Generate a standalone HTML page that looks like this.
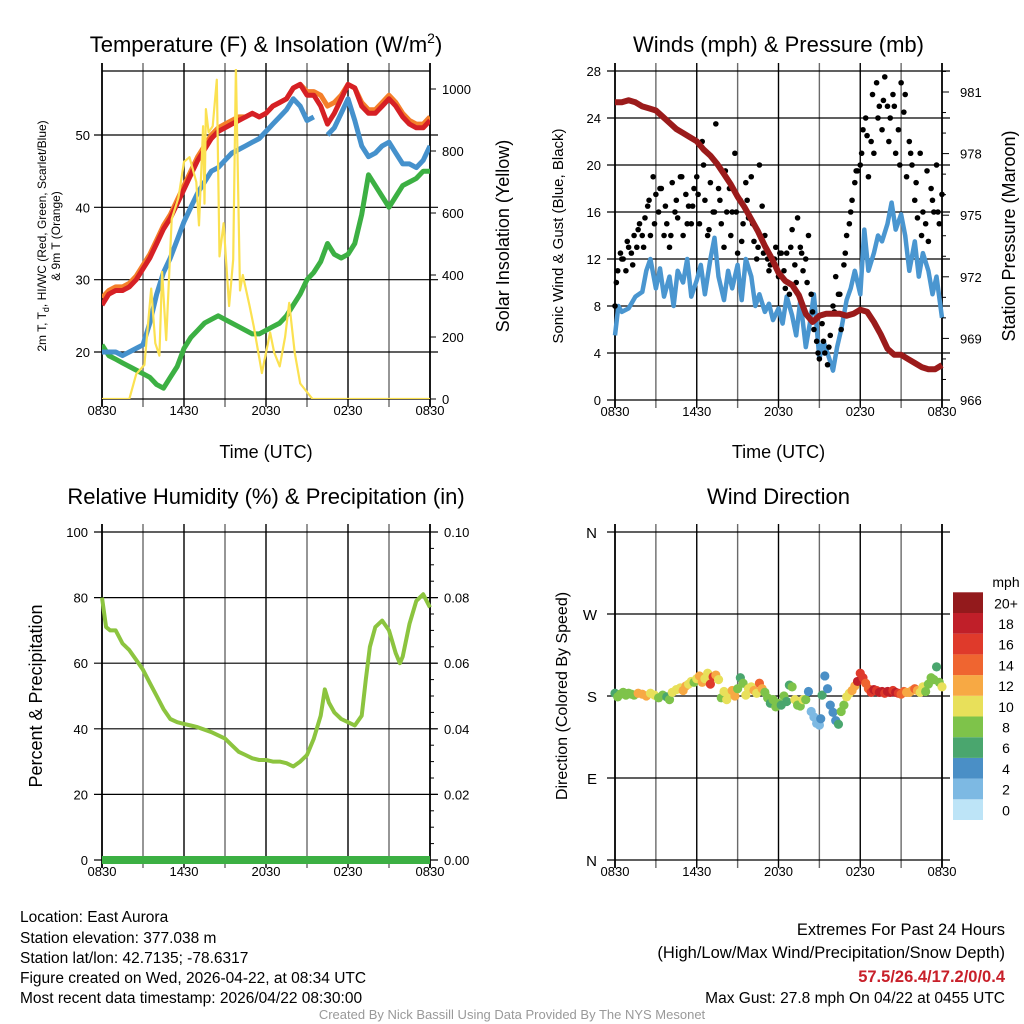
<!DOCTYPE html>
<html><head><meta charset="utf-8">
<style>
html,body{margin:0;padding:0;background:#fff;}
svg{display:block;font-family:"Liberation Sans",sans-serif;}
.nar{font-family:"Liberation Sans Narrow","Liberation Sans",sans-serif;}
</style></head>
<body>
<svg id="chart" xmlns="http://www.w3.org/2000/svg" width="1024" height="1024" viewBox="0 0 1024 1024">
<rect width="1024" height="1024" fill="#fff"/>
<g id="grids"></g>
<g id="series"></g>
<g id="axes"></g>
<g id="texts" class="nar" font-size="15.5" fill="#000">
<text x="20" y="922">Location: East Aurora</text>
<text x="20" y="943">Station elevation: 377.038 m</text>
<text x="20" y="963">Station lat/lon: 42.7135; -78.6317</text>
<text x="20" y="983">Figure created on Wed, 2026-04-22, at 08:34 UTC</text>
<text x="20" y="1003">Most recent data timestamp: 2026/04/22 08:30:00</text>
<text x="1005" y="935" text-anchor="end" font-size="16.5">Extremes For Past 24 Hours</text>
<text x="1005" y="958" text-anchor="end" font-size="16.5">(High/Low/Max Wind/Precipitation/Snow Depth)</text>
<text x="1005" y="982" text-anchor="end" font-size="16.5" font-weight="bold" fill="#c8202a">57.5/26.4/17.2/0/0.4</text>
<text x="1005" y="1003" text-anchor="end" font-size="15.5">Max Gust: 27.8 mph On 04/22 at 0455 UTC</text>
<text x="512" y="1019" text-anchor="middle" font-size="13" fill="#999">Created By Nick Bassill Using Data Provided By The NYS Mesonet</text>
</g>
</svg>
<script>
// ---------- DATA ----------
const xTickLabels = ["0830","1430","2030","0230","0830"];
// Panel 1 temperature (F), hours since 0830
const tempHours = [0,0.5,1,1.5,2,2.5,3,3.5,4,4.5,5,5.5,6,6.5,7,7.5,8,8.5,9,9.5,10,10.5,11,11.5,12,12.5,13,13.5,14,14.5,15,15.5,16,16.5,17,17.5,18,18.5,19,19.5,20,20.5,21,21.5,22,22.5,23,23.5,24];
const tempRed =   [26.5,28,28.5,28.5,29,30,31.5,33,35,37,38.5,40.5,42.5,44.5,46.5,48,49.5,50.5,51,51.5,52,52.5,53,52.5,53,54,54.5,55,56.5,57,55.5,55.5,54,51.5,53,55,57,56.5,54,53,53,54,55,54,52.5,51.5,51,51,52];
const tempOrange =[27.5,28.5,29,29,29.5,30.5,32,33.5,35.5,37.5,39,41,43,45,47,48.5,50,51,51.5,52,52.5,52.5,53,52.5,53,54,54.5,55,56.5,57,56,56,55.5,54,54.5,55.5,57,56.5,54.5,53.5,53.5,54.5,55.5,54.5,53,52,51.5,51.5,52.5];
const tempBlue =  [20,20,20,19.5,20,20.5,21,24,28,31,33,35.5,38,40,42,43.5,45,45.5,46.5,47.5,48,48.5,49,49.5,50.5,51.5,52.5,53.5,55,54,52,52.5,null,50,51,53,55,52,48.5,47,47.5,48.5,49,47.5,46,46,45.5,46.5,48.5];
const dewGreen =  [21,19.5,19,18.5,18,17.5,17,16.5,15.5,15,16.5,18,20.5,22,23,24,24.5,25,24.5,24,23.5,23,22.5,22.5,23,23.5,24,25,26.5,28,30,31,32.5,35,33.5,33,33.5,35,39,44.5,43,41.5,40,41.5,43,43.5,44,45,45];
const solarHours = [0,2.0,2.5,3.1,3.6,3.9,4.2,4.4,4.7,5.1,5.6,6.0,6.4,6.9,7.1,7.4,7.5,7.6,7.8,8.1,8.4,8.6,8.9,9.3,9.6,9.8,10.1,10.3,10.8,11.1,11.7,12.3,12.6,13.0,13.4,13.7,14.1,14.5,15.4,24];
const solarVals  = [0,0,80,110,356,180,140,410,190,580,650,765,780,700,560,880,630,935,860,880,1030,460,567,300,450,1070,350,400,300,235,84,215,150,105,200,310,150,50,0,0];
// Panel 2 winds/pressure
const windHours = [0,0.25,0.5,1,1.5,2,2.3,2.6,3,3.3,3.6,4,4.3,4.6,5,5.3,5.6,6,6.3,6.6,7,7.3,7.6,8,8.3,8.6,9,9.3,9.6,10,10.3,10.6,11,11.3,11.6,12,12.3,12.6,13,13.3,13.6,14,14.3,14.6,15,15.3,15.6,16,16.3,16.6,17,17.3,17.6,18,18.3,18.6,19,19.3,19.6,20,20.3,20.6,21,21.3,21.6,22,22.3,22.6,23,23.3,23.6,24];
const windSonic = [5.5,8,7.5,7.8,8.8,9.2,11,12,9.5,11.2,8.8,10.5,8,11,10,12,8.8,10.2,11.5,9,12,13.8,10.5,8.5,11,9.5,11.5,8.5,12,10.5,8,9,7.5,8.2,6.8,7.8,6.5,8.8,7.2,5.5,8.5,4.5,6.5,9,3.5,5,4,2.5,4.5,6,8.5,9.5,11,9,14.5,11,12.5,14,13.5,15,16.8,14.5,15.8,14,11,13.5,10.5,12.5,11,9,10.5,7];
const gustHours = [0,0.2,0.4,0.6,0.8,1,1.2,1.4,1.6,1.8, 2,2.2,2.4,2.6,2.8,3,3.2,3.4,3.6,3.8, 4,4.2,4.4,4.6,4.8,5,5.2,5.4,5.6,5.8, 6,6.2,6.4,6.6,6.8,7,7.2,7.4,7.6,7.8, 8,8.2,8.4,8.6,8.8,9,9.2,9.4,9.6,9.8, 10,10.2,10.4,10.6,10.8,11,11.2,11.4,11.6,11.8, 12,12.2,12.4,12.6,12.8,13,13.2,13.4,13.6,13.8, 14,14.2,14.4,14.6,14.8,15,15.2,15.4,15.6,15.8, 16,16.2,16.4,16.6,16.8,17,17.2,17.4,17.6,17.8, 18,18.2,18.4,18.6,18.8,19,19.2,19.4,19.6,19.8, 20,20.2,20.4,20.6,20.8,21,21.2,21.4,21.6,21.8, 22,22.2,22.4,22.6,22.8,23,23.2,23.4,23.6,23.8, 24];
const gustVals = [8,11,12.5,12,11,13,12.5,14,13,15, 14,15.5,16.5,14,19,17.5,16,18,14,15, 13,18.5,16,15.5,19,14,17.5,16.5,15,18, 19,15,22,17,14,18.5,16,23.5,18,15, 13,16,18,16,21,12.5,17,15,18.5,15.5, 19,13.5,12,20,16.5,14,12,11.5,12,13, 10.5,12.5,11,12.5,9,14.5,11.5,15.5,13,11, 12,14,9,6,5,3.5,6.5,4,3,5.5, 8,10.5,9,6,11.5,14,15,17,18.5,19.5, 20,23,24,19,22,21,27,25,23,27.5, 25,24,26,21,23,27,24.5,19,22,20, 17,15.5,21,16,15,13.5,18,16,20,15, 17.5];
const gust2Hours = [0.1,0.5,0.9,1.3,1.7,2.1,2.5,2.9,3.3,3.7,4.1,4.5,4.9,5.3,5.7,6.1,6.5,6.9,7.3,7.7,8.1,8.5,8.9,9.3,9.7,10.1,10.5,10.9,11.3,11.7,12.1,12.5,12.9,13.3,13.7,14.1,14.5,14.9,15.3,15.7,16.1,16.5,16.9,17.3,17.7,18.1,18.5,18.9,19.3,19.7,20.1,20.5,20.9,21.3,21.7,22.1,22.5,22.9,23.3,23.7];
const gust2Vals = [10,12,13.5,11.5,14.5,13,17,15,18,16.5,14,17,19,15,16.5,17.5,20,14.5,16,17,19.5,14,16,13.5,17,15,13,12.5,11,12,12.5,9.5,13,10,12.5,10,7.5,4,5,4.5,7.5,9,12.5,16,19.5,21,22.5,26,24,25.5,22,25,20,26,21,18.5,14,19.5,17,16];
const pressHours = [0,0.5,1,1.5,2,2.5,3,3.5,4,4.5,5,5.5,6,6.5,7,7.5,8,8.5,9,9.5,10,10.5,11,11.5,12,12.5,13,13.5,14,14.5,15,15.5,16,16.5,17,17.5,18,18.5,19,19.5,20,20.5,21,21.5,22,22.5,23,23.5,24];
const pressVals = [980.5,980.5,980.6,980.5,980.3,980.2,980.1,979.8,979.5,979.2,979.0,978.8,978.6,978.2,977.9,977.5,977.0,976.5,975.9,975.4,974.8,974.2,973.5,972.9,972.2,971.8,971.6,971.1,970.2,969.8,970.1,970.2,970.2,970.2,970.1,970.2,970.4,970.3,969.8,969.2,968.5,968.2,968.2,968.0,967.8,967.6,967.5,967.5,967.7];
// Panel 3 RH
const rhHours = [0,0.3,0.6,1,1.5,2,2.5,3,3.5,4,4.5,5,5.5,6,6.5,7,8,9,9.5,10,10.5,11,11.5,12,12.5,13,13.5,14,14.5,15,15.5,16,16.3,16.6,17,17.5,18,18.5,19,19.3,19.6,20,20.5,21,21.5,21.8,22,22.5,23,23.5,24];
const rhVals  = [80,71,70,70,66,64,61,58,54,50,46,43,42,41.5,41,40.5,39,37,35,33,32,31,30.5,30.5,30,30,29.5,28.5,30,32,37,44,52,48,45,43,42,41,44,55,65,71,73,70,63,60,62,72,79,81,77];
const precipVals = [0,0];
// Panel 4 wind direction (deg) & speed (mph)
const dirHours = [0,0.2,0.4,0.6,0.8,1,1.2,1.4,1.7,2,2.3,2.6,2.9,3.2,3.5,3.8,4,4.2,4.5,4.8,5,5.2,5.4,5.6,5.8,6,6.2,6.4,6.6,6.8,7,7.2,7.4,7.6,7.8,8,8.2,8.4,8.6,8.8,9,9.2,9.4,9.6,9.8,10,10.2,10.4,10.6,10.8,11,11.2,11.4,11.6,11.8,12,12.2,12.4,12.6,12.8,13,13.2,13.4,13.6,13.8,14,14.2,14.4,14.6,14.8,15,15.1,15.2,15.4,15.6,15.8,16,16.2,16.4,16.6,16.8,17,17.2,17.4,17.6,17.8,18,18.2,18.4,18.6,18.8,19,19.2,19.4,19.6,19.8,20,20.2,20.4,20.6,20.8,21,21.2,21.4,21.6,21.8,22,22.2,22.4,22.6,22.8,23,23.2,23.4,23.6,23.8,24];
const dirVals = [183,179,182,184,181,183,182,181,183,182,180,183,181,178,181,179,176,184,187,189,186,191,193,196,195,199,202,195,199,205,193,201,203,198,178,185,176,183,186,180,188,200,194,181,188,190,186,183,194,188,184,178,172,176,168,172,170,180,174,192,190,176,170,169,176,176,185,163,157,150,148,155,181,202,188,170,162,153,149,163,170,179,183,186,191,196,205,200,194,188,184,187,186,184,185,183,185,184,186,184,183,182,185,184,184,186,188,186,184,190,185,193,200,198,212,195,190];
const speedVals = [5,7,7,7,8,7,7,8,11,11,12,9,10,8,8,6,7,10,10,9,11,11,10,9,8,10,12,11,10,9,16,15,11,10,8,10,10,9,12,11,7,6,7,10,10,9,11,10,13,12,7,7,6,7,8,8,6,8,6,6,8,9,7,8,10,7,3,2,2,2,2,4,5,4,4,4,3,4,6,8,8,10,10,11,12,17,15,16,14,13,16,17,16,17,17,16,17,18,16,17,16,14,13,12,11,12,13,11,10,9,8,7,8,7,6,8,10];

// ---------- HELPERS ----------
const NS = "http://www.w3.org/2000/svg";
const gG = document.getElementById("grids"), gS = document.getElementById("series"), gA = document.getElementById("axes");
function mk(tag, attrs, parent){ const e=document.createElementNS(NS,tag); for(const k in attrs) e.setAttribute(k,attrs[k]); parent.appendChild(e); return e; }
function txt(parent, x, y, s, size, anchor, rot){ const t=mk("text",{x:x,y:y,"font-size":size,"text-anchor":anchor||"middle",fill:"#000"},parent); if(rot) t.setAttribute("transform",`rotate(${rot} ${x} ${y})`); t.textContent=s; return t; }
function scale(d0,d1,r0,r1){ return v => r0 + (v-d0)/(d1-d0)*(r1-r0); }
function pathFrom(xs, ys, sx, sy){ let d="", pen=false; for(let i=0;i<xs.length;i++){ if(ys[i]===null||ys[i]===undefined){pen=false;continue;} d+=(pen?"L":"M")+sx(xs[i]).toFixed(1)+" "+sy(ys[i]).toFixed(1)+" "; pen=true;} return d; }
function panelFrame(x0,x1,y0,y1,hLines,name){
  const sx = scale(0,24,x0,x1);
  for(let h=0;h<=24;h+=3){ const l=mk("line",{x1:sx(h),x2:sx(h),y1:y0-8,y2:y1+8,stroke:(h%6===0?"#000":"#6a6a6a"),"stroke-width":(h===0||h===24)?1.8:1.4},gG);
    
     }
  hLines.forEach(y=>{ const l=mk("line",{x1:x0-8,x2:x1+8,y1:y,y2:y,stroke:"#000","stroke-width":1.2},gG);
    
     });
  xTickLabels.forEach((s,i)=>{ const t=txt(gA, sx(i*6), y1+16, s, 13);
    
     });
  return sx;
}

// ---------- PANEL 1 ----------
(function(){
  const x0=102,x1=430,y0=71,y1=399;
  const sy = scale(20,50,352,135);
  const sr = scale(0,1000,399,89);
  const hl=[20,30,40,50].map(sy);
  const sx = panelFrame(x0,x1,y0,y1,hl,"temp-panel");
  mk("line",{x1:x0,x2:x1,y1:y0,y2:y0,stroke:"#000","stroke-width":1.2},gG);
  mk("line",{x1:x0,x2:x1,y1:y1,y2:y1,stroke:"#000","stroke-width":1.2},gG);
  [20,30,40,50].forEach(v=>{ const t=txt(gA,x0-12,sy(v)+5,String(v),13,"end");   });
  [0,200,400,600,800,1000].forEach(v=>{ mk("line",{x1:x1,x2:x1+6,y1:sr(v),y2:sr(v),stroke:"#000"},gA); const t=txt(gA,x1+12,sr(v)+5,String(v),13,"start");   });
  const clip = mk("clipPath",{id:"c1"},gS); mk("rect",{x:x0,y:y0-2,width:x1-x0,height:y1-y0+2},clip);
  const g = mk("g",{"clip-path":"url(#c1)"},gS);
  let p;
  p=mk("path",{d:pathFrom(tempHours,dewGreen,sx,sy),fill:"none",stroke:"#3cb043","stroke-width":5,"stroke-linejoin":"round"},g);  
  p=mk("path",{d:pathFrom(tempHours,tempOrange,sx,sy),fill:"none",stroke:"#f47f2a","stroke-width":5,"stroke-linejoin":"round"},g);  
  p=mk("path",{d:pathFrom(tempHours,tempRed,sx,sy),fill:"none",stroke:"#d62025","stroke-width":5,"stroke-linejoin":"round"},g);  
  p=mk("path",{d:pathFrom(tempHours,tempBlue,sx,sy),fill:"none",stroke:"#4591cc","stroke-width":5,"stroke-linejoin":"round"},g);  
  p=mk("path",{d:pathFrom(solarHours,solarVals,sx,sr),fill:"none",stroke:"#fbe151","stroke-width":2.2,"stroke-linejoin":"round"},g);  
  let t=txt(gA,(x0+x1)/2,52,"",22); t.innerHTML='Temperature (F) &amp; Insolation (W/m<tspan font-size="14" dy="-9">2</tspan><tspan dy="9">)</tspan>';  
  t=txt(gA,(x0+x1)/2,458,"Time (UTC)",18);  
  t=txt(gA,46,236,"",12,"middle",-90); t.innerHTML='2m T, T<tspan font-size="9" dy="3">d</tspan><tspan dy="-3">, HI/WC (Red, Green, Scarlet/Blue)</tspan>';  
  t=txt(gA,60,236,"& 9m T (Orange)",12,"middle",-90);  
  t=txt(gA,509,236,"Solar Insolation (Yellow)",18,"middle",-90);  
})();

// ---------- PANEL 2 ----------
(function(){
  const x0=615,x1=942,y0=71,y1=400;
  const sy = scale(0,28,400,71);
  const sp = scale(966,981,400,92);
  const hl=[0,4,8,12,16,20,24,28].map(sy);
  const sx = panelFrame(x0,x1,y0,y1,hl,"wind-panel");
  [0,4,8,12,16,20,24,28].forEach(v=>{ const t=txt(gA,x0-14,sy(v)+5,String(v),13,"end");   });
  for(let v=966;v<=982;v++){ mk("line",{x1:x1,x2:x1+(v%3===0?7:4),y1:sp(v),y2:sp(v),stroke:"#000"},gA); }
  [966,969,972,975,978,981].forEach(v=>{ const t=txt(gA,x1+18,sp(v)+5,String(v),13,"start");   });
  let p=mk("path",{d:pathFrom(windHours,windSonic,sx,sy),fill:"none",stroke:"#4a96d0","stroke-width":4.5,"stroke-linejoin":"round"},gS);  
  gustHours.forEach((h,i)=>{ if(!isFinite(gustVals[i])) return; const c=mk("circle",{cx:sx(h),cy:sy(Math.min(gustVals[i],27.8)),r:2.8,fill:"#000"},gS);
    
     });
  gust2Hours.forEach((h,i)=>{ if(!isFinite(gust2Vals[i])) return; const c=mk("circle",{cx:sx(h),cy:sy(Math.min(gust2Vals[i],27.8)),r:2.8,fill:"#000"},gS);
    
     });
  p=mk("path",{d:pathFrom(pressHours,pressVals,sx,sp),fill:"none",stroke:"#9b1b1b","stroke-width":6,"stroke-linejoin":"round"},gS);  
  let t=txt(gA,(x0+x1)/2,52,"Winds (mph) & Pressure (mb)",22);  
  t=txt(gA,(x0+x1)/2,458,"Time (UTC)",18);  
  t=txt(gA,563,236,"Sonic Wind & Gust (Blue, Black)",15,"middle",-90);  
  t=txt(gA,1015,236,"Station Pressure (Maroon)",18,"middle",-90);  
})();

// ---------- PANEL 3 ----------
(function(){
  const x0=102,x1=430,y0=532,y1=860;
  const sy = scale(0,100,860,532);
  const spr = scale(0,0.1,860,532);
  const hl=[0,20,40,60,80,100].map(sy);
  const sx = panelFrame(x0,x1,y0,y1,hl,"rh-panel");
  [0,20,40,60,80,100].forEach(v=>{ const t=txt(gA,x0-14,sy(v)+5,String(v),13,"end");   });
  for(let k=0;k<=20;k++){ const v=k*0.005; mk("line",{x1:x1,x2:x1+(k%4===0?7:4),y1:spr(v),y2:spr(v),stroke:"#000"},gA); }
  ["0.00","0.02","0.04","0.06","0.08","0.10"].forEach((s,i)=>{ const t=txt(gA,x1+14,spr(i*0.02)+5,s,13,"start");   });
  let p=mk("path",{d:pathFrom(rhHours,rhVals,sx,sy),fill:"none",stroke:"#8cc43f","stroke-width":4,"stroke-linejoin":"round"},gS);  
  p=mk("path",{d:pathFrom([0,24],precipVals,sx,spr),fill:"none",stroke:"#3cb043","stroke-width":8},gS);  
  let t=txt(gA,(x0+x1)/2,504,"Relative Humidity (%) & Precipitation (in)",22);  
  t=txt(gA,42,696,"Percent & Precipitation",18,"middle",-90);  
})();

// ---------- PANEL 4 ----------
(function(){
  const x0=615,x1=942,y0=532,y1=860;
  const sy = scale(0,360,860,532);
  const hl=[0,90,180,270,360].map(sy);
  const sx = panelFrame(x0,x1,y0,y1,hl,"dir-panel");
  ["N","E","S","W","N"].forEach((s,i)=>{ const t=txt(gA,x0-18,sy(i*90)+6,s,15,"end");   });
  const colors=["#bde4f7","#7db9e3","#4a8fc6","#4aa66e","#7ec34a","#e8e05a","#f7a944","#ef6530","#df3a2b","#c01f29","#931a1c"];
  function col(s){ return colors[Math.min(10,Math.floor((s+1)/2))]; }
  dirHours.forEach((h,i)=>{ if(!isFinite(dirVals[i])||!isFinite(speedVals[i])) return; const c=mk("circle",{cx:sx(h),cy:sy(dirVals[i]),r:4.6,fill:col(speedVals[i])},gS);
    
     });
  const labels=["0","2","4","6","8","10","12","14","16","18","20+"];
  for(let i=0;i<11;i++){ const y=820-(i+1)*20.7;
    const r=mk("rect",{x:953,y:y,width:30,height:20.7,fill:colors[i]},gA);
    
    
    const t=txt(gA,1006,y+16,labels[i],14);   }
  let t=txt(gA,1006,587,"mph",14);  
  t=txt(gA,(x0+x1)/2,504,"Wind Direction",22);  
  t=txt(gA,567,696,"Direction (Colored By Speed)",16,"middle",-90);  
})();

// remove any stray circles with invalid positions
document.querySelectorAll('#chart circle').forEach(c=>{
  const cy=parseFloat(c.getAttribute('cy')), cx=parseFloat(c.getAttribute('cx'));
  if(!isFinite(cy)||!isFinite(cx)||cy<5) c.remove();
});
</script>
</body></html>
